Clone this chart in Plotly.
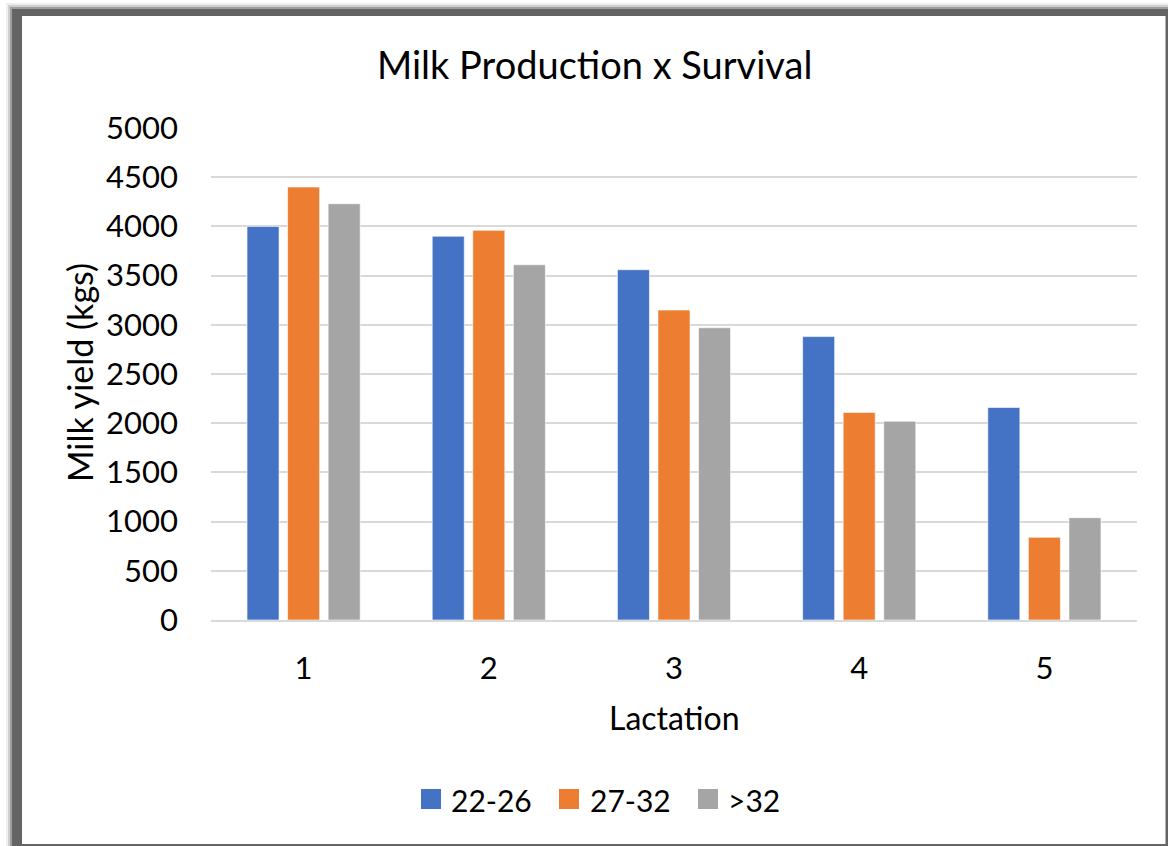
import plotly.graph_objects as go

# Data
lactation = ["1", "2", "3", "4", "5"]
series_names = ["22-26", "27-32", ">32"]
yield_22_26 = [4000, 3900, 3560, 2880, 2160]
yield_27_32 = [4400, 3960, 3150, 2110, 840]
yield_over_32 = [4230, 3610, 2970, 2020, 1040]
colors = ["#4472C4", "#ED7D31", "#A5A5A5"]
y_ticks = [0, 500, 1000, 1500, 2000, 2500, 3000, 3500, 4000, 4500, 5000]

W, H = 1168, 846
L, R, T, B = 211, 31, 128, 226
PW, PH = W - L - R, H - T - B

FONT = "Lato"


def px_x(px):
    return (px - L) / PW


def px_y(py):
    return (H - B - py) / PH


fig = go.Figure()
for name, vals, col in zip(series_names, [yield_22_26, yield_27_32, yield_over_32], colors):
    fig.add_trace(go.Bar(
        x=lactation, y=vals, name=name, showlegend=False,
        marker=dict(color=col, line=dict(color="rgba(255,255,255,0.6)", width=1)),
    ))

# framed card with a soft drop shadow on the top/left
shapes = []
for pad, op in [(6, 0.10), (4, 0.22), (2, 0.45)]:
    shapes.append(dict(type="rect", xref="paper", yref="paper",
                       x0=px_x(12 - pad), y0=px_y(846), x1=px_x(1168), y1=px_y(9 - pad),
                       fillcolor=f"rgba(100,100,100,{op})", line=dict(width=0), layer="below"))
shapes.append(dict(type="rect", xref="paper", yref="paper",
                   x0=px_x(12), y0=px_y(846), x1=px_x(1168), y1=px_y(9),
                   fillcolor="#646464", line=dict(width=0), layer="below"))
shapes.append(dict(type="rect", xref="paper", yref="paper",
                   x0=px_x(22), y0=px_y(844), x1=px_x(1165.5), y1=px_y(16),
                   fillcolor="white", line=dict(width=0), layer="below"))

annotations = [
    dict(text="Milk Production x Survival", xref="paper", yref="paper",
         x=px_x(594), y=px_y(64), showarrow=False, xanchor="center", yanchor="middle",
         font=dict(family=FONT, size=38, color="#000000")),
    dict(text="Milk yield (kgs)", xref="paper", yref="paper",
         x=px_x(79), y=px_y(373), showarrow=False, xanchor="center", yanchor="middle",
         textangle=-90, font=dict(family=FONT, size=34, color="#000000")),
    dict(text="Lactation", xref="paper", yref="paper",
         x=px_x(674), y=px_y(717), showarrow=False, xanchor="center", yanchor="middle",
         font=dict(family=FONT, size=32, color="#000000")),
]

# legend: colour swatch plus label for each series
legend_swatch_x = [421, 559, 698]
legend_text_x = [449, 588, 726]
for name, col, sx, tx in zip(series_names, colors, legend_swatch_x, legend_text_x):
    shapes.append(dict(type="rect", xref="paper", yref="paper",
                       x0=px_x(sx), x1=px_x(sx + 20), y0=px_y(809), y1=px_y(789),
                       fillcolor=col, line=dict(width=0)))
    annotations.append(dict(text=name, xref="paper", yref="paper",
                            x=px_x(tx), y=px_y(800), showarrow=False,
                            xanchor="left", yanchor="middle",
                            font=dict(family=FONT, size=30, color="#000000")))

fig.update_layout(
    width=W, height=H,
    margin=dict(l=L, r=R, t=T, b=B, pad=0),
    paper_bgcolor="white", plot_bgcolor="rgba(0,0,0,0)",
    barmode="group", bargap=0.343, bargroupgap=0.21,
    shapes=shapes, annotations=annotations,
    showlegend=False,
    font=dict(family=FONT, color="#000000"),
)
fig.update_yaxes(range=[0, 5000], tickvals=y_ticks, showgrid=True, gridcolor="#D9D9D9",
                 gridwidth=1.8, zeroline=False, showline=False,
                 tickfont=dict(family=FONT, size=31, color="#000000"), ticklabelstandoff=32)
fig.update_xaxes(showgrid=False, zeroline=False, showline=True, linecolor="#D9D9D9", linewidth=1.8,
                 tickfont=dict(family=FONT, size=31, color="#000000"), ticklabelstandoff=20)

fig.write_html("out.html")
